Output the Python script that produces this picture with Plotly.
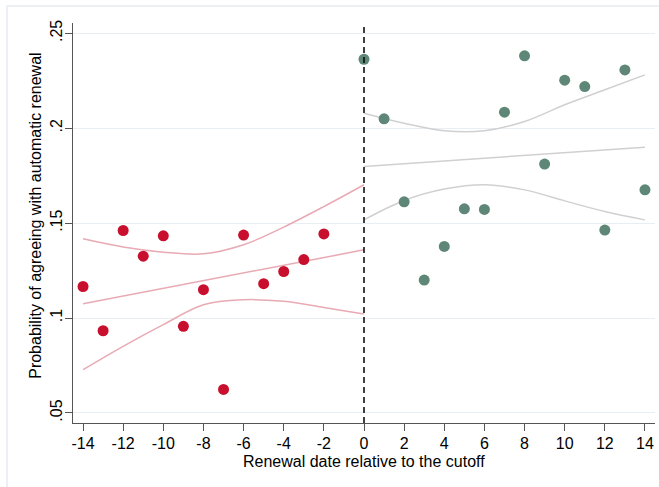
import plotly.graph_objects as go

# Binned means: renewal date relative to cutoff vs. share agreeing
x_left = [-14, -13, -12, -11, -10, -9, -8, -7, -6, -5, -4, -3, -2]
y_left = [0.1166, 0.0933, 0.1461, 0.1326, 0.1433, 0.0956, 0.1149, 0.0624,
          0.1437, 0.1181, 0.1245, 0.1308, 0.1443]
x_right = [0, 1, 2, 3, 4, 5, 6, 7, 8, 9, 10, 11, 12, 13, 14]
y_right = [0.2363, 0.2049, 0.1612, 0.1200, 0.1377, 0.1575, 0.1572, 0.2084,
           0.2381, 0.1811, 0.2253, 0.2219, 0.1463, 0.2307, 0.1675]

# Linear fits and 95% confidence bands on each side of the cutoff
fit_x_left = [-14, 0]
fit_left = [0.1075, 0.1359]
ci_x_left = [-14, -12, -10, -8, -6, -4, -2, 0]
ci_hi_left = [0.1417, 0.1374, 0.1347, 0.1338, 0.1386, 0.1479, 0.1587, 0.1702]
ci_lo_left = [0.0728, 0.0851, 0.0965, 0.1070, 0.1096, 0.1088, 0.1056, 0.1021]

fit_x_right = [0, 14]
fit_right = [0.1798, 0.1900]
ci_x_right = [0, 2, 4, 6, 8, 10, 12, 14]
ci_hi_right = [0.2079, 0.2026, 0.1986, 0.1986, 0.2035, 0.2123, 0.2202, 0.2281]
ci_lo_right = [0.1517, 0.1619, 0.1679, 0.1702, 0.1675, 0.1617, 0.1561, 0.1517]

x_ticks = list(range(-14, 15, 2))
x_tick_labels = [str(v) for v in x_ticks]  # plain hyphen for negatives
y_ticks = [0.05, 0.10, 0.15, 0.20, 0.25]
y_tick_labels = [".05", ".1", ".15", ".2", ".25"]

RED = "#C8102E"
GREEN = "#5E8777"
PINK = "#E8AAB4"
GREY = "#D0D0D0"
FONT = "Liberation Sans, Arial, Helvetica, sans-serif"

fig = go.Figure()


def band_line(x, y, color, spline=True):
    fig.add_trace(go.Scatter(
        x=x, y=y, mode="lines",
        line=dict(color=color, width=1.5, shape="spline" if spline else "linear",
                  smoothing=1.0),
        hoverinfo="skip", showlegend=False))


band_line(ci_x_left, ci_hi_left, PINK)
band_line(ci_x_left, ci_lo_left, PINK)
band_line(fit_x_left, fit_left, PINK, spline=False)
band_line(ci_x_right, ci_hi_right, GREY)
band_line(ci_x_right, ci_lo_right, GREY)
band_line(fit_x_right, fit_right, GREY, spline=False)

fig.add_trace(go.Scatter(x=x_left, y=y_left, mode="markers",
                         marker=dict(color=RED, size=11), showlegend=False))
fig.add_trace(go.Scatter(x=x_right, y=y_right, mode="markers",
                         marker=dict(color=GREEN, size=11), showlegend=False))

# Cutoff marker
fig.add_shape(type="line", xref="x", yref="paper", x0=0, x1=0, y0=0, y1=1,
              line=dict(color="black", width=1.5, dash="6px,4px"), layer="above")

# Light frame around the graph region
fig.add_shape(type="rect", xref="paper", yref="paper",
              x0=-0.1134, x1=1.5, y0=-1.0, y1=1.0425,
              line=dict(color="#E6EAEF", width=1.5), layer="below")

axis_common = dict(
    showline=True, linecolor="#555555", linewidth=1,
    ticks="outside", ticklen=7, tickcolor="#555555", tickwidth=1,
    tickfont=dict(family=FONT, size=16, color="black"),
    zeroline=False,
)

fig.update_xaxes(range=[-14.5, 14.5], tickvals=x_ticks, ticktext=x_tick_labels,
                 showgrid=False, ticklabelstandoff=-1, **axis_common)
fig.update_yaxes(range=[0.0447, 0.2554], tickvals=y_ticks, ticktext=y_tick_labels,
                 tickangle=-90, showgrid=True, gridcolor="#E9EEF3", gridwidth=1,
                 ticklabelstandoff=-3, **axis_common)

# Axis titles
fig.add_annotation(text="Renewal date relative to the cutoff",
                   xref="paper", yref="paper", x=0.5, y=-0.097,
                   xanchor="center", yanchor="middle", showarrow=False,
                   font=dict(family=FONT, size=16, color="black"))
fig.add_annotation(text="Probability of agreeing with automatic renewal",
                   xref="paper", yref="paper", x=-0.0636, y=0.518,
                   xanchor="center", yanchor="middle", textangle=-90,
                   showarrow=False,
                   font=dict(family=FONT, size=16, color="black"))

fig.update_layout(
    width=659, height=487,
    margin=dict(l=73, r=4, t=23, b=64),
    paper_bgcolor="white", plot_bgcolor="white",
    font=dict(family=FONT, color="black"),
)

fig.write_html("out.html")
